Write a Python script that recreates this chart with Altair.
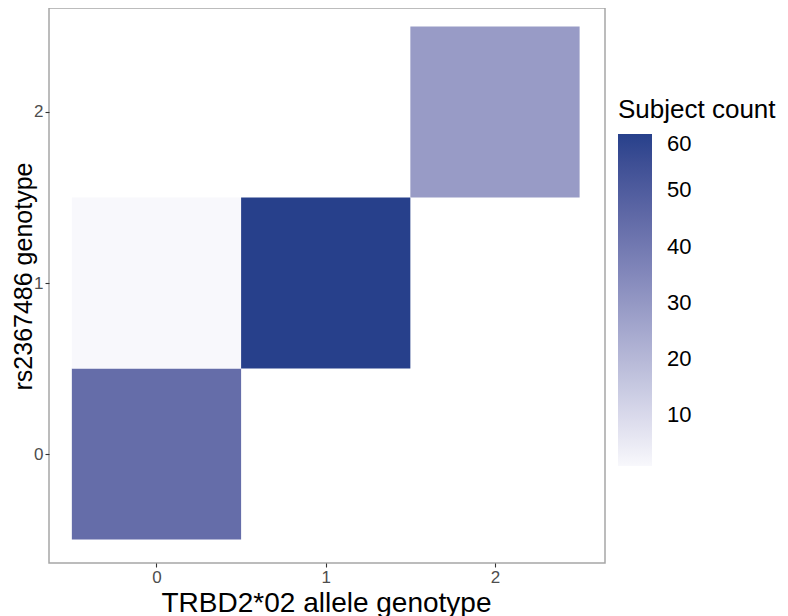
import altair as alt
import pandas as pd

# Data
trbd2_genotype = [0, 0, 1, 2]
rs_genotype = [0, 1, 1, 2]
subject_count = [44, 1, 60, 29]
tick_values = [0, 1, 2]
legend_values = [10, 20, 30, 40, 50, 60]

df = pd.DataFrame({"x": trbd2_genotype, "y": rs_genotype, "count": subject_count})

axis_common = dict(
    values=tick_values,
    grid=False,
    domain=False,
    tickColor="#333333",
    tickSize=4,
    tickWidth=1.1,
    labelColor="#4D4D4D",
    labelFontSize=17,
    labelFont="Liberation Sans",
    titleFont="Liberation Sans",
    titleFontWeight="normal",
    titleColor="#000000",
    format="d",
    labelPadding=2,
)

chart = (
    alt.Chart(df)
    .transform_calculate(
        x0="datum.x - 0.5", x1="datum.x + 0.5", y0="datum.y - 0.5", y1="datum.y + 0.5"
    )
    .mark_rect()
    .encode(
        x=alt.X(
            "x0:Q",
            scale=alt.Scale(domain=[-0.635, 2.65], nice=False, zero=False),
            axis=alt.Axis(title="TRBD2*02 allele genotype", titleFontSize=28, titleX=277, titleY=26,
                          titleBaseline="top", **axis_common),
        ),
        x2="x1:Q",
        y=alt.Y(
            "y0:Q",
            scale=alt.Scale(domain=[-0.637, 2.608], nice=False, zero=False),
            axis=alt.Axis(title="rs2367486 genotype", titleFontSize=25, titleX=-18, titleY=268,
                          titleBaseline="alphabetic", **axis_common),
        ),
        y2="y1:Q",
        color=alt.Color(
            "count:Q",
            scale=alt.Scale(domain=[1, 60], range=["#F8F8FC", "#27408B"], interpolate="lab", nice=False, zero=False),
            legend=alt.Legend(
                title="Subject count",
                orient="none",
                legendX=569,
                legendY=89,
                gradientLength=332,
                gradientThickness=34,
                gradientStrokeWidth=0,
                values=legend_values,
                labelFontSize=22,
                labelFont="Liberation Sans",
                labelColor="#000000",
                labelOffset=15,
                titleFontSize=26,
                titleFont="Liberation Sans",
                titleFontWeight="normal",
                titleColor="#000000",
                titlePadding=11,
                titleLimit=400,
            ),
        ),
    )
    .properties(
        width=556,
        height=555,
        autosize=alt.AutoSizeParams(type="none"),
        padding={"left": 41, "top": 0, "right": 175, "bottom": 53},
    )
    .configure_view(stroke="#A6A6A6", strokeWidth=1.5)
)

chart.save("out.html", embed_options={"renderer": "svg", "actions": False})
